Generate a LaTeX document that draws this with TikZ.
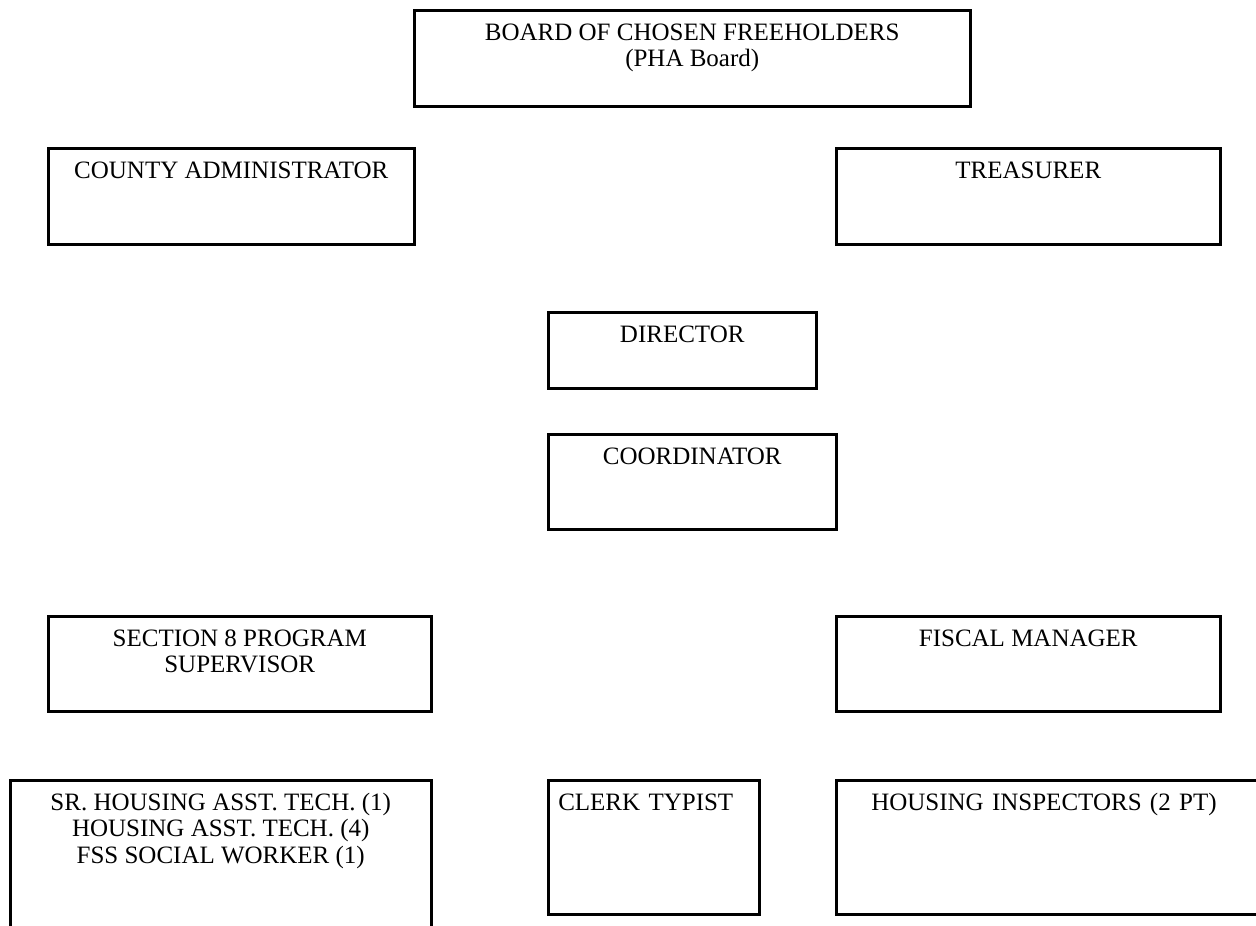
\documentclass[tikz,border=0pt]{standalone}
\usepackage{fontspec}
\setmainfont{Liberation Serif}
\usepackage{tikz}
\usetikzlibrary{positioning}
\tikzset{orgbox/.style={draw, line width=1.2pt, inner sep=0pt, anchor=north west, align=center,
    text height=14.4pt, font=\fontsize{12}{12.8}\selectfont}}

\begin{document}
\begin{tikzpicture}[x=0.48pt,y=-0.48pt]
\useasboundingbox (0,0) rectangle (1256,925);
% top
\node[orgbox, minimum width=556*0.48pt, text height=27.2pt, text depth=96*0.48pt-27.2pt] (board) at (413,9) {BOARD OF CHOSEN FREEHOLDERS\\(PHA Board)};
\node[orgbox, minimum width=366*0.48pt, text depth=(96-30)*0.48pt] (admin) at (47,147) {COUNTY ADMINISTRATOR};
\node[orgbox, minimum width=384*0.48pt, text depth=(96-30)*0.48pt] (treas) at (835,147) {TREASURER};
%
\node[orgbox, minimum width=268*0.48pt, text depth=(76-30)*0.48pt] (dir) at (547,311) {DIRECTOR};
\node[orgbox, minimum width=288*0.48pt, text depth=(95-30)*0.48pt] (coord) at (547,433) {COORDINATOR};
%
\node[orgbox, minimum width=383*0.48pt, text height=27.2pt, text depth=95*0.48pt-27.2pt] (sec8) at (47,615) {SECTION 8 PROGRAM\\SUPERVISOR};
\node[orgbox, minimum width=384*0.48pt, text depth=(95-30)*0.48pt] (fisc) at (835,615) {FISCAL MANAGER};
% bottom row
\node[orgbox, minimum width=421*0.48pt, text height=40pt, text depth=200*0.48pt-40pt] (techs) at (9,779) {SR. HOUSING ASST. TECH. (1)\\HOUSING ASST. TECH. (4)\\FSS SOCIAL WORKER (1)};
\node[orgbox, align=left, inner xsep=4.8pt, text width=191*0.48pt, text depth=(134-30)*0.48pt] (clerk) at (547,779) {CLERK TYPIST};
\node[orgbox, align=left, inner xsep=16.8pt, text width=380*0.48pt, text depth=(134-30)*0.48pt] (insp) at (835,779) {HOUSING INSPECTORS (2 PT)};
\end{tikzpicture}
\end{document}
